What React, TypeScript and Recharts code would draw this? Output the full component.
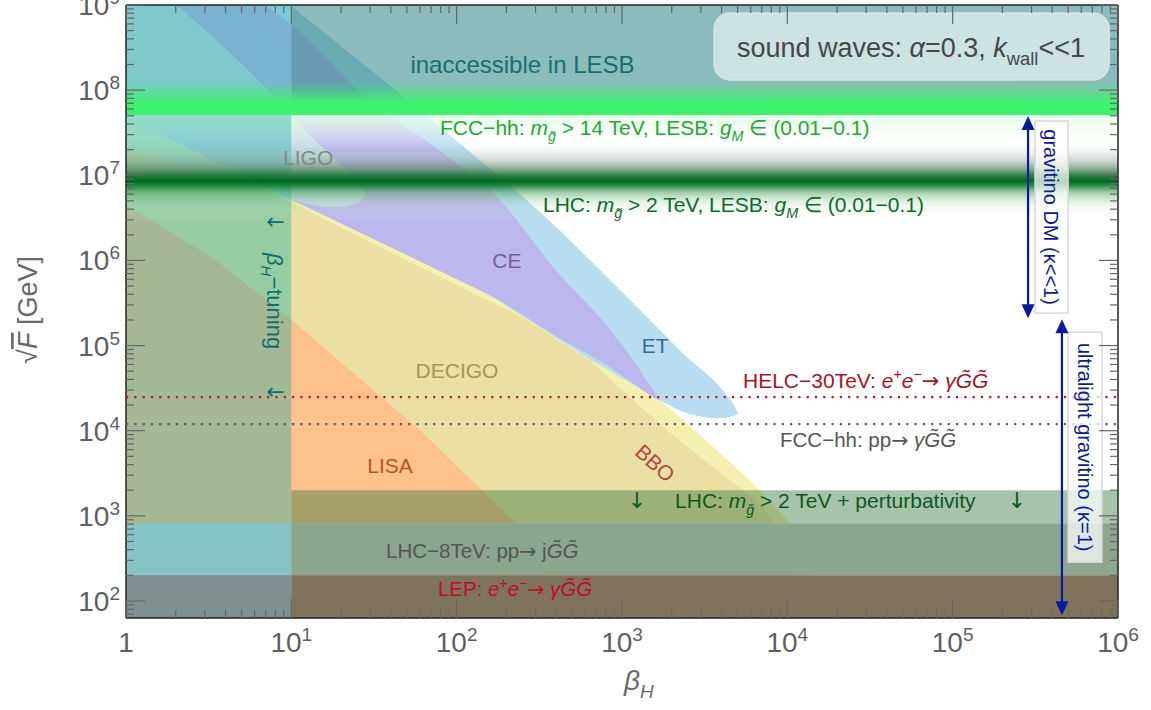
import React from 'react';
import { ComposedChart, Area, XAxis, YAxis, ReferenceArea, ReferenceLine, ReferenceDot } from 'recharts';

const W = 1151;
const H = 710;
const AX_LEFT = 126;
const AX_RIGHT = 33;
const AX_TOP = 5;
const AX_BOTTOM = 92;
const PL = AX_LEFT;
const PR = W - AX_RIGHT;
const PT = AX_TOP;
const PB = H - AX_BOTTOM;
const FONT = '"Liberation Sans", Arial, Helvetica, sans-serif';
const ARROW_FONT = '"DejaVu Sans", sans-serif';

// ---- axes (log10 units) ----
const xDomain = [0, 6];
const yDomain = [1.8, 9];
const xDecades = [0, 1, 2, 3, 4, 5, 6];
const yDecades = [2, 3, 4, 5, 6, 7, 8, 9];
const minorFactors = [2, 3, 4, 5, 6, 7, 8, 9];
const FLOOR = 1.8;

const xTicks = [
  ...xDecades,
  ...xDecades.slice(0, -1).flatMap((d) => minorFactors.map((k) => d + Math.log10(k))),
].sort((a, b) => a - b);
const yTicks = [
  ...yDecades,
  ...[1, ...yDecades.slice(0, -1)].flatMap((d) => minorFactors.map((k) => d + Math.log10(k))),
]
  .filter((v) => v >= yDomain[0] - 1e-9 && v <= yDomain[1] + 1e-9)
  .sort((a, b) => a - b);

// ---- GW detector regions: x = log10(beta_H), values = log10(sqrt F / GeV) ----
const etX = [0, 0.992, 1.96, 2.504, 2.867, 2.909, 3.188, 3.23, 3.393, 3.593, 3.684, 3.702];
const etHi = [10.56, 9.0, 7.47, 6.568, 5.886, 5.804, 5.263, 5.181, 4.864, 4.511, 4.276, 4.206];
const etLo = [8.0, 6.955, 5.886, 5.216, 4.77, 4.723, 4.405, 4.358, 4.206, 4.147, 4.182, 4.206];

const ceX = [0, 0.84, 1.004, 1.446, 1.96, 2.262, 2.583, 2.946, 3.109, 3.188, 3.23];
const ceHi = [10.21, 9.0, 8.765, 7.919, 7.202, 6.709, 5.921, 5.146, 4.711, 4.476, 4.358];
const ceLo = [7.684, 6.867, 6.709, 6.298, 5.816, 5.522, 5.134, 4.723, 4.5, 4.394, 4.358];

const ligoX = [0, 0.308, 0.75, 1.004, 1.234, 1.294, 1.385, 1.415, 1.446];
const ligoHi = [9.552, 9.0, 8.213, 7.684, 7.237, 7.12, 6.967, 6.908, 6.767];
const ligoLo = [7.296, 7.12, 6.861, 6.709, 6.626, 6.626, 6.662, 6.697, 6.767];

const bboX = [0, 1.004, 1.778, 2.262, 2.625, 2.988, 3.23, 3.393, 3.593, 3.792, 3.998, 4.149];
const bboHi = [7.766, 6.767, 6.027, 5.557, 5.146, 4.687, 4.358, 4.088, 3.736, 3.383, 2.948, 2.619];

const decigoX = [0, 1.004, 1.839, 2.383, 2.807, 3.067, 3.309, 3.55, 3.792, 3.913, 4.046];
const decigoHi = [7.684, 6.673, 5.863, 5.345, 4.828, 4.358, 3.947, 3.571, 3.219, 2.948, 2.619];

const lisaX = [0, 0.526, 1.004, 1.778, 2.341, 2.504];
const lisaHi = [6.65, 6.027, 5.298, 4.006, 2.948, 2.619];

// ---- horizontal bands / lines ----
const fullX = [0, 6];
const tuningX = [0, 1];
const rightOfTuningX = [1, 6];
const inaccessibleRange = [7.707, 9.0];
const fccGlowUpper = [7.707, 8.12];
const fccGlowLower = [7.296, 7.707];
const lhcGlow = [6.45, 7.355];
const tuningRange = [1.8, 9.0];
const lhcPertRange = [2.913, 3.301];
const lhc8Range = [2.302, 2.913];
const lepRange = [1.8, 2.302];
const helcLevel = 4.394;
const fccppLevel = 4.076;

// ---- annotation boxes / arrows ----
const soundBox = { x: [3.557, 5.946], y: [8.119, 8.906] };
const gravBox = { x: [5.498, 5.698], y: [5.381, 7.637] };
const ultraBox = { x: [5.698, 5.903], y: [2.455, 5.157] };
const gravArrow = { x: 5.456, y: [5.322, 7.696] };
const ultraArrow = { x: 5.661, y: [1.832, 5.31] };

const band = (xs: number[], lo: number[], hi: number[]) => xs.map((x, i) => ({ x, r: [lo[i], hi[i]] }));
const floorBand = (xs: number[], hi: number[]) => xs.map((x, i) => ({ x, r: [FLOOR, hi[i]] }));
const rect = (xs: number[], range: number[]) => xs.map((x) => ({ x, r: [range[0], range[1]] }));

const etData = band(etX, etLo, etHi);
const ceData = band(ceX, ceLo, ceHi);
const ligoData = band(ligoX, ligoLo, ligoHi);
const bboData = floorBand(bboX, bboHi);
const decigoData = floorBand(decigoX, decigoHi);
const lisaData = floorBand(lisaX, lisaHi);

type Part = { t: string; i?: boolean; sub?: boolean; sup?: boolean; f?: string };
const mg: Part[] = [{ t: 'm', i: true }, { t: 'g\u0303', i: true, sub: true }];
const gM: Part[] = [{ t: 'g', i: true }, { t: 'M', i: true, sub: true }];
const arrowR: Part = { t: '\u2192', f: ARROW_FONT };
const eePlus: Part[] = [
  { t: 'e', i: true },
  { t: '+', sup: true },
  { t: 'e', i: true },
  { t: '\u2212', sup: true },
];
const GG = 'G\u0303G\u0303';

type Lbl = {
  x: number;
  y: number;
  parts: Part[];
  color: string;
  size: number;
  anchor?: 'start' | 'middle' | 'end';
  rotate?: number;
  center?: boolean;
};

const labels: Lbl[] = [
  { x: 2.398, y: 8.201, parts: [{ t: 'inaccessible in LESB' }], color: '#17706f', size: 24, anchor: 'middle' },
  {
    x: 1.899, y: 7.472, color: '#22aa35', size: 21,
    parts: [{ t: 'FCC\u2212hh: ' }, ...mg, { t: ' > 14 TeV, LESB: ' }, ...gM, { t: ' \u2208 (0.01\u22120.1)' }],
  },
  {
    x: 2.522, y: 6.568, color: '#0b6b2b', size: 21,
    parts: [{ t: 'LHC: ' }, ...mg, { t: ' > 2 TeV, LESB: ' }, ...gM, { t: ' \u2208 (0.01\u22120.1)' }],
  },
  { x: 0.95, y: 7.12, parts: [{ t: 'LIGO' }], color: '#7f8a88', size: 21 },
  { x: 2.304, y: 5.91, parts: [{ t: 'CE' }], color: '#7b5b9b', size: 21, anchor: 'middle' },
  { x: 3.2, y: 4.911, parts: [{ t: 'ET' }], color: '#3b6b98', size: 21, anchor: 'middle' },
  { x: 2.002, y: 4.617, parts: [{ t: 'DECIGO' }], color: '#9c9860', size: 21, anchor: 'middle' },
  { x: 1.597, y: 3.501, parts: [{ t: 'LISA' }], color: '#b5571d', size: 21, anchor: 'middle' },
  { x: 3.2, y: 3.618, parts: [{ t: 'BBO' }], color: '#b34545', size: 21, anchor: 'middle', rotate: 42, center: true },
  {
    x: 3.732, y: 4.499, color: '#b0101f', size: 21,
    parts: [{ t: 'HELC\u221230TeV: ' }, ...eePlus, arrowR, { t: ' ' }, { t: '\u03b3' + GG, i: true }],
  },
  { x: 3.956, y: 3.806, color: '#555555', size: 20.5, parts: [{ t: 'FCC\u2212hh: pp' }, arrowR, { t: ' ' }, { t: '\u03b3' + GG, i: true }] },
  { x: 3.091, y: 3.089, color: '#0b5a1c', size: 22, anchor: 'middle', parts: [{ t: '\u2193', f: ARROW_FONT }] },
  { x: 3.321, y: 3.089, color: '#0b5a1c', size: 21, parts: [{ t: 'LHC: ' }, ...mg, { t: ' > 2 TeV + perturbativity' }] },
  { x: 5.389, y: 3.089, color: '#0b5a1c', size: 22, anchor: 'middle', parts: [{ t: '\u2193', f: ARROW_FONT }] },
  { x: 1.573, y: 2.502, color: '#555555', size: 20.5, parts: [{ t: 'LHC\u22128TeV: pp' }, arrowR, { t: ' j' }, { t: GG, i: true }] },
  { x: 1.887, y: 2.055, color: '#c0101f', size: 20.5, parts: [{ t: 'LEP: ' }, ...eePlus, arrowR, { t: ' ' }, { t: '\u03b3' + GG, i: true }] },
  {
    x: 0.901, y: 5.522, color: '#10706f', size: 22, anchor: 'middle', rotate: 90, center: true,
    parts: [{ t: '\u03b2', i: true }, { t: 'H', i: true, sub: true }, { t: '\u2212tuning' }],
  },
  { x: 0.904, y: 6.462, color: '#10706f', size: 22, anchor: 'middle', center: true, parts: [{ t: '\u2190', f: ARROW_FONT }] },
  { x: 0.904, y: 4.464, color: '#10706f', size: 22, anchor: 'middle', center: true, parts: [{ t: '\u2190', f: ARROW_FONT }] },
  {
    x: 4.748, y: 8.389, color: '#474747', size: 27, anchor: 'middle',
    parts: [{ t: 'sound waves: ' }, { t: '\u03b1', i: true }, { t: '=0.3, ' }, { t: 'k', i: true }, { t: 'wall', sub: true }, { t: '<<1' }],
  },
  { x: 5.595, y: 6.509, color: '#0a1a9c', size: 20, anchor: 'middle', rotate: 90, center: true, parts: [{ t: 'gravitino DM (\u03ba<<1)' }] },
  { x: 5.8, y: 3.806, color: '#0a1a9c', size: 20, anchor: 'middle', rotate: 90, center: true, parts: [{ t: 'ultralight gravitino (\u03ba=1)' }] },
];

function RichText({ cx, cy, parts, size, color, anchor = 'start', rotate = 0, center = false }: any) {
  let cur = 0;
  const spans = (parts as Part[]).map((p, k) => {
    const small = p.sub || p.sup;
    const target = p.sub ? size * 0.3 : p.sup ? -size * 0.42 : 0;
    const dy = target - cur;
    cur = target;
    return (
      <tspan
        key={k}
        dy={dy}
        fontStyle={p.i ? 'italic' : 'normal'}
        fontSize={small ? size * 0.68 : size}
        fontFamily={p.f || FONT}
      >
        {p.t}
      </tspan>
    );
  });
  const y = center ? cy + size * 0.35 : cy;
  return (
    <text
      x={cx}
      y={y}
      fill={color}
      fontSize={size}
      fontFamily={FONT}
      textAnchor={anchor}
      transform={rotate ? `rotate(${rotate} ${cx} ${cy})` : undefined}
    >
      {spans}
    </text>
  );
}

const isMajor = (v: number) => Math.abs(v - Math.round(v)) < 1e-9;
const TICK_COLOR = '#666666';
const LABEL_COLOR = '#5f5f5f';

const LeftTick = (props: any) => {
  const { y, payload } = props;
  const v = payload.value;
  const major = isMajor(v);
  return (
    <g>
      <line x1={PL} x2={PL + (major ? 19 : 8)} y1={y} y2={y} stroke={TICK_COLOR} strokeWidth={1.2} />
      {major && (
        <text x={PL - 6} y={y + 10} textAnchor="end" fontSize={28} fill={LABEL_COLOR} fontFamily={FONT}>
          <tspan>10</tspan>
          <tspan dy={-11} fontSize={19}>
            {Math.round(v)}
          </tspan>
        </text>
      )}
    </g>
  );
};

const RightTick = (props: any) => {
  const { y, payload } = props;
  const major = isMajor(payload.value);
  return <line x1={PR} x2={PR - (major ? 19 : 8)} y1={y} y2={y} stroke={TICK_COLOR} strokeWidth={1.2} />;
};

const BottomTick = (props: any) => {
  const { x, payload } = props;
  const v = payload.value;
  const major = isMajor(v);
  return (
    <g>
      <line x1={x} x2={x} y1={PB} y2={PB - (major ? 19 : 8)} stroke={TICK_COLOR} strokeWidth={1.2} />
      {major && (
        <text x={x} y={PB + 34} textAnchor="middle" fontSize={28} fill={LABEL_COLOR} fontFamily={FONT}>
          {Math.round(v) === 0 ? (
            <tspan>1</tspan>
          ) : (
            <>
              <tspan>10</tspan>
              <tspan dy={-11} fontSize={19}>
                {Math.round(v)}
              </tspan>
            </>
          )}
        </text>
      )}
    </g>
  );
};

const TopTick = (props: any) => {
  const { x, payload } = props;
  const major = isMajor(payload.value);
  return <line x1={x} x2={x} y1={PT} y2={PT + (major ? 19 : 8)} stroke={TICK_COLOR} strokeWidth={1.2} />;
};

const XTitle = () => (
  <text x={624} y={690} fontSize={28} fill="#6a6a6a" fontFamily={FONT}>
    <tspan fontStyle="italic">{'\u03b2'}</tspan>
    <tspan fontStyle="italic" fontSize={19} dy={8}>
      H
    </tspan>
  </text>
);

const YTitle = () => (
  <text x={37} y={310} fontSize={27} fill="#6a6a6a" fontFamily={FONT} textAnchor="middle" transform="rotate(-90 37 310)">
    <tspan>{'\u221a'}</tspan>
    <tspan fontStyle="italic" style={{ textDecoration: 'overline' }}>
      F
    </tspan>
    <tspan>{' [GeV]'}</tspan>
  </text>
);

const arrowHead = (dir: 'up' | 'down') => (p: any) => {
  const { cx, cy } = p;
  const s = dir === 'up' ? 1 : -1;
  return <path d={`M${cx},${cy} L${cx - 6.5},${cy + 14 * s} L${cx + 6.5},${cy + 14 * s} Z`} fill="#0a1aa0" />;
};

const roundedBox = (rx: number, fill: string, opacity: number, stroke: string) => (p: any) => (
  <rect x={p.x} y={p.y} width={p.width} height={p.height} rx={rx} ry={rx} fill={fill} fillOpacity={opacity} stroke={stroke} strokeWidth={1.5} />
);

const common = { dataKey: 'r', stroke: 'none', isAnimationActive: false, activeDot: false as const, dot: false as const };

export default function App() {
  return (
    <div style={{ position: 'absolute', left: 0, top: 0, width: W, height: H, background: '#ffffff' }}>
      <ComposedChart width={W} height={H} margin={{ top: 0, right: 0, bottom: 0, left: 0 }}>
        <defs>
          <linearGradient id="gUp" x1="0" y1="0" x2="0" y2="1">
            <stop offset="0" stopColor="#3cf26c" stopOpacity={0} />
            <stop offset="0.3" stopColor="#3cf26c" stopOpacity={0.35} />
            <stop offset="0.55" stopColor="#3cf26c" stopOpacity={0.85} />
            <stop offset="0.7" stopColor="#3cf26c" stopOpacity={1} />
            <stop offset="1" stopColor="#3cf26c" stopOpacity={1} />
          </linearGradient>
          <linearGradient id="gLow" x1="0" y1="0" x2="0" y2="1">
            <stop offset="0" stopColor="#e4fce4" stopOpacity={0.92} />
            <stop offset="0.5" stopColor="#f0fdf0" stopOpacity={0.5} />
            <stop offset="1" stopColor="#ffffff" stopOpacity={0} />
          </linearGradient>
          <linearGradient id="gDark" x1="0" y1="0" x2="0" y2="1">
            <stop offset="0" stopColor="#b0c0b4" stopOpacity={0} />
            <stop offset="0.1" stopColor="#a8b8ac" stopOpacity={0.2} />
            <stop offset="0.22" stopColor="#7a9a82" stopOpacity={0.45} />
            <stop offset="0.32" stopColor="#4a8058" stopOpacity={0.7} />
            <stop offset="0.4" stopColor="#157030" stopOpacity={0.92} />
            <stop offset="0.47" stopColor="#006a1f" stopOpacity={1} />
            <stop offset="0.53" stopColor="#0a7a2a" stopOpacity={0.85} />
            <stop offset="0.62" stopColor="#48a058" stopOpacity={0.5} />
            <stop offset="0.74" stopColor="#90cc98" stopOpacity={0.25} />
            <stop offset="0.88" stopColor="#d0ecd0" stopOpacity={0.1} />
            <stop offset="1" stopColor="#ffffff" stopOpacity={0} />
          </linearGradient>
        </defs>

        <XAxis
          xAxisId={0}
          dataKey="x"
          type="number"
          domain={xDomain}
          allowDataOverflow
          ticks={xTicks}
          interval={0}
          height={AX_BOTTOM}
          tickLine={false}
          axisLine={{ stroke: '#222', strokeWidth: 1.5 }}
          tick={<BottomTick />}
          label={<XTitle />}
        />
        <XAxis
          xAxisId="top"
          dataKey="x"
          orientation="top"
          type="number"
          domain={xDomain}
          allowDataOverflow
          ticks={xTicks}
          interval={0}
          height={AX_TOP}
          tickLine={false}
          axisLine={{ stroke: '#222', strokeWidth: 1.5 }}
          tick={<TopTick />}
        />
        <YAxis
          yAxisId={0}
          type="number"
          domain={yDomain}
          allowDataOverflow
          ticks={yTicks}
          interval={0}
          width={AX_LEFT}
          tickLine={false}
          axisLine={{ stroke: '#222', strokeWidth: 1.5 }}
          tick={<LeftTick />}
          label={<YTitle />}
        />
        <YAxis
          yAxisId="right"
          orientation="right"
          type="number"
          domain={yDomain}
          allowDataOverflow
          ticks={yTicks}
          interval={0}
          width={AX_RIGHT}
          tickLine={false}
          axisLine={{ stroke: '#222', strokeWidth: 1.5 }}
          tick={<RightTick />}
        />

        {/* GW detector sensitivity regions */}
        <Area {...common} data={bboData} type="linear" fill="#f3f0b0" fillOpacity={1} />
        <Area {...common} data={decigoData} type="linear" fill="#e6d49c" fillOpacity={0.6} />
        <Area {...common} data={lisaData} type="linear" fill="#fec18b" fillOpacity={1} />
        <Area {...common} data={etData} type="monotone" fill="#b8dcf1" fillOpacity={1} />
        <Area {...common} data={ceData} type="monotone" fill="#bcb8ee" fillOpacity={1} />
        <Area {...common} data={ligoData} type="monotone" fill="#c8f4d8" fillOpacity={0.55} />

        {/* constraint bands */}
        <Area {...common} data={rect(rightOfTuningX, inaccessibleRange)} type="linear" fill="#187a77" fillOpacity={0.5} />
        <Area {...common} data={rect(fullX, fccGlowLower)} type="linear" fill="url(#gLow)" fillOpacity={1} />
        <Area {...common} data={rect(tuningX, tuningRange)} type="linear" fill="#0aaba3" fillOpacity={0.37} />
        <Area {...common} data={rect(fullX, fccGlowUpper)} type="linear" fill="url(#gUp)" fillOpacity={1} />
        <Area {...common} data={rect(fullX, lhcGlow)} type="linear" fill="url(#gDark)" fillOpacity={1} />
        <Area {...common} data={rect(rightOfTuningX, lhcPertRange)} type="linear" fill="#3b7a45" fillOpacity={0.45} />
        <Area {...common} data={rect(tuningX, lhc8Range)} type="linear" fill="#84c4c4" fillOpacity={1} />
        <Area {...common} data={rect(rightOfTuningX, lhc8Range)} type="linear" fill="#8aa68e" fillOpacity={1} />
        <Area {...common} data={rect(tuningX, lepRange)} type="linear" fill="#7f9090" fillOpacity={1} />
        <Area {...common} data={rect(rightOfTuningX, lepRange)} type="linear" fill="#80735c" fillOpacity={1} />

        <ReferenceLine y={helcLevel} stroke="#b8182a" strokeWidth={2.2} strokeDasharray="2.2 6.1" zIndex={1400} />
        <ReferenceLine y={fccppLevel} stroke="#5a6262" strokeWidth={2.2} strokeDasharray="2.2 6.1" zIndex={1400} />

        <ReferenceArea
          x1={soundBox.x[0]} x2={soundBox.x[1]} y1={soundBox.y[0]} y2={soundBox.y[1]}
          shape={roundedBox(16, '#ffffff', 0.57, '#d6e6e6')}
          zIndex={1500}
        />
        <ReferenceArea x1={gravBox.x[0]} x2={gravBox.x[1]} y1={gravBox.y[0]} y2={gravBox.y[1]} shape={roundedBox(0, '#ffffff', 0.72, '#d8d8d8')} zIndex={1500} />
        <ReferenceArea x1={ultraBox.x[0]} x2={ultraBox.x[1]} y1={ultraBox.y[0]} y2={ultraBox.y[1]} shape={roundedBox(0, '#ffffff', 0.72, '#d8d8d8')} zIndex={1500} />

        <ReferenceLine
          segment={[{ x: gravArrow.x, y: gravArrow.y[0] + 0.1 }, { x: gravArrow.x, y: gravArrow.y[1] - 0.1 }]}
          stroke="#0a1aa0"
          strokeWidth={2.2}
          zIndex={1600}
        />
        <ReferenceLine
          segment={[{ x: ultraArrow.x, y: ultraArrow.y[0] + 0.1 }, { x: ultraArrow.x, y: ultraArrow.y[1] - 0.1 }]}
          stroke="#0a1aa0"
          strokeWidth={2.2}
          zIndex={1600}
        />
        <ReferenceDot x={gravArrow.x} y={gravArrow.y[1]} r={1} shape={arrowHead('up')} zIndex={1600} />
        <ReferenceDot x={gravArrow.x} y={gravArrow.y[0]} r={1} shape={arrowHead('down')} zIndex={1600} />
        <ReferenceDot x={ultraArrow.x} y={ultraArrow.y[1]} r={1} shape={arrowHead('up')} zIndex={1600} />
        <ReferenceDot x={ultraArrow.x} y={ultraArrow.y[0]} r={1} shape={arrowHead('down')} zIndex={1600} />

        {labels.map((l, i) => (
          <ReferenceDot
            key={i}
            x={l.x}
            y={l.y}
            r={1}
            zIndex={1700}
            shape={(p: any) => (
              <RichText cx={p.cx} cy={p.cy} parts={l.parts} size={l.size} color={l.color} anchor={l.anchor} rotate={l.rotate} center={l.center} />
            )}
          />
        ))}
      </ComposedChart>
    </div>
  );
}
